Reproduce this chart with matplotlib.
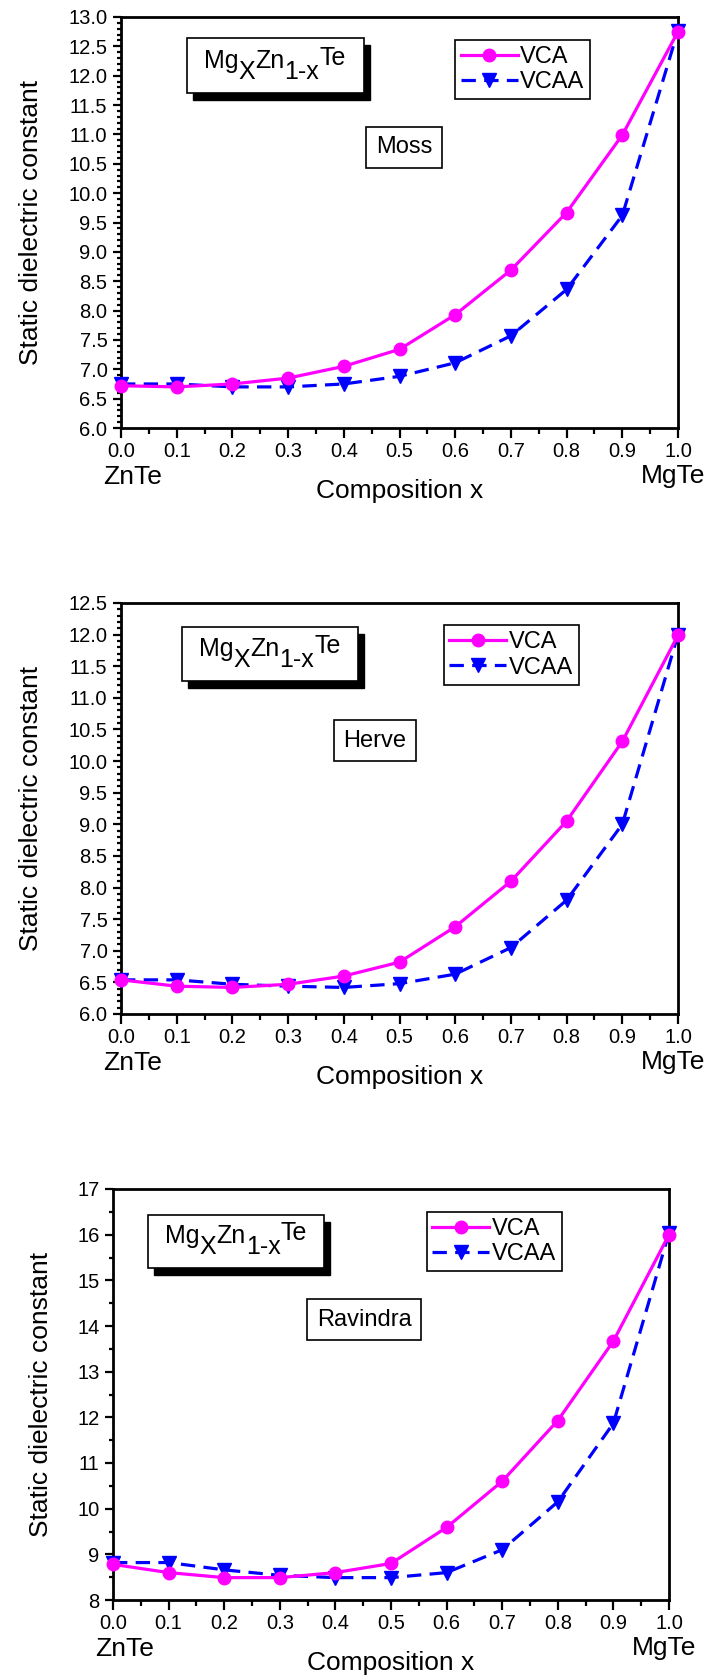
import matplotlib
matplotlib.use("Agg")
import matplotlib.pyplot as plt
from matplotlib.patches import Rectangle
from matplotlib.ticker import MultipleLocator, FormatStrFormatter
from matplotlib.transforms import offset_copy

plt.rcParams['font.family'] = ['Liberation Sans', 'DejaVu Sans']

# composition x (MgxZn1-xTe)
composition = [0.0, 0.1, 0.2, 0.3, 0.4, 0.5, 0.6, 0.7, 0.8, 0.9, 1.0]

# static dielectric constant
moss_vca = [6.72, 6.70, 6.75, 6.85, 7.05, 7.34, 7.93, 8.69, 9.67, 10.99, 12.75]
moss_vcaa = [6.75, 6.75, 6.70, 6.70, 6.75, 6.88, 7.11, 7.57, 8.36, 9.62, 12.77]
herve_vca = [6.54, 6.44, 6.42, 6.47, 6.60, 6.82, 7.38, 8.10, 9.05, 10.31, 11.99]
herve_vcaa = [6.54, 6.54, 6.47, 6.44, 6.42, 6.48, 6.63, 7.05, 7.80, 9.00, 12.00]
ravindra_vca = [8.78, 8.60, 8.49, 8.49, 8.60, 8.80, 9.59, 10.60, 11.93, 13.67, 16.00]
ravindra_vcaa = [8.82, 8.82, 8.66, 8.54, 8.49, 8.49, 8.60, 9.10, 10.15, 11.87, 16.04]

model_names = ["Moss", "Herve", "Ravindra"]
series_labels = ["VCA", "VCAA"]
end_labels = ["ZnTe", "MgTe"]

W, H = 710, 1677

panels = [
    dict(vca=moss_vca, vcaa=moss_vcaa, name=model_names[0], px=(121, 17, 678, 428),
         ylim=(6.0, 13.0), major=0.5, minor=0.1, fmt='%.1f',
         box=(0.118, 0.815, 0.436, 0.949), leg=(0.600, 0.944), tag=(0.508, 0.683), ylab=-0.140),
    dict(vca=herve_vca, vcaa=herve_vcaa, name=model_names[1], px=(121, 603, 678, 1014),
         ylim=(6.0, 12.5), major=0.5, minor=0.1, fmt='%.1f',
         box=(0.109, 0.810, 0.425, 0.942), leg=(0.579, 0.946), tag=(0.456, 0.665), ylab=-0.140),
    dict(vca=ravindra_vca, vcaa=ravindra_vcaa, name=model_names[2], px=(113, 1189, 669, 1600),
         ylim=(8, 17), major=1, minor=0.5, fmt='%d',
         box=(0.063, 0.807, 0.379, 0.936), leg=(0.564, 0.944), tag=(0.452, 0.682), ylab=-0.108),
]

fig = plt.figure(figsize=(W / 100, H / 100), dpi=100)
renderer = fig.canvas.get_renderer()


def formula(ax, x0, y0, size=18):
    # Origin-style MgxZn1-xTe: sub/superscripts at full size, shifted (in px)
    pieces = [("Mg", 0), ("X", -11), ("Zn", 0), ("1-x", -11), ("Te", 3)]
    dx = 0.0
    for s, dy in pieces:
        tr = offset_copy(ax.transAxes, fig=fig, x=dx, y=dy * 72 / 100, units="points")
        t = ax.text(x0, y0, s, transform=tr, fontsize=size, va="baseline", ha="left", zorder=8)
        dx += t.get_window_extent(renderer).width * 72 / 100


for p in panels:
    l, t, r, b = p["px"]
    ax = fig.add_axes([l / W, 1 - b / H, (r - l) / W, (b - t) / H])

    ax.plot(composition, p["vca"], color="#FF00FF", lw=2.3, marker="o", ms=9,
            label=series_labels[0], clip_on=False, zorder=4)
    ax.plot(composition, p["vcaa"], color="#0000FF", lw=2.3, ls=(0, (4.5, 2.6)), marker="v", ms=10,
            label=series_labels[1], clip_on=False, zorder=3)

    ax.set_xlim(0, 1)
    ax.set_ylim(*p["ylim"])
    ax.xaxis.set_major_locator(MultipleLocator(0.1))
    ax.xaxis.set_minor_locator(MultipleLocator(0.05))
    ax.xaxis.set_major_formatter(FormatStrFormatter('%.1f'))
    ax.yaxis.set_major_locator(MultipleLocator(p["major"]))
    ax.yaxis.set_minor_locator(MultipleLocator(p["minor"]))
    ax.yaxis.set_major_formatter(FormatStrFormatter(p["fmt"]))

    for s in ax.spines.values():
        s.set_linewidth(2.0)
    ax.tick_params(axis="x", which="major", direction="out", length=7.2, width=1.6, labelsize=14.5, pad=3)
    ax.tick_params(axis="x", which="minor", direction="out", length=4.3, width=1.6)
    ax.tick_params(axis="y", which="major", direction="out", length=5.8, width=1.6, labelsize=14.5, pad=4)
    ax.tick_params(axis="y", which="minor", direction="out", length=2.9, width=1.6)

    ax.set_ylabel("Static dielectric constant", fontsize=19)
    ax.yaxis.set_label_coords(p["ylab"], 0.5)
    ax.text(0.5, -0.153, "Composition x", transform=ax.transAxes, fontsize=19, ha="center", va="center")
    ax.text(0.020, -0.119, end_labels[0], transform=ax.transAxes, fontsize=19, ha="center", va="center")
    ax.text(0.991, -0.117, end_labels[1], transform=ax.transAxes, fontsize=19, ha="center", va="center")

    # formula box with drop shadow
    x0, y0, x1, y1 = p["box"]
    ax.add_patch(Rectangle((x0 + 0.011, y0 - 0.017), x1 - x0, y1 - y0, transform=ax.transAxes,
                           fc="black", ec="black", lw=1.0, zorder=6))
    ax.add_patch(Rectangle((x0, y0), x1 - x0, y1 - y0, transform=ax.transAxes,
                           fc="white", ec="black", lw=1.2, zorder=7))
    formula(ax, x0 + 0.031, y0 + 0.061)

    ax.text(p["tag"][0], p["tag"][1], p["name"], transform=ax.transAxes, fontsize=17,
            ha="center", va="center", zorder=8,
            bbox=dict(boxstyle="square,pad=0.4", fc="white", ec="black", lw=1.2))

    leg = ax.legend(loc="upper left", bbox_to_anchor=p["leg"], borderaxespad=0, fontsize=17,
                    fancybox=False, edgecolor="black", framealpha=1, borderpad=0.25,
                    labelspacing=0.15, handlelength=2.4, handletextpad=0.1)
    leg.get_frame().set_linewidth(1.2)
    leg.set_zorder(9)

fig.savefig("out.png", dpi=100)
